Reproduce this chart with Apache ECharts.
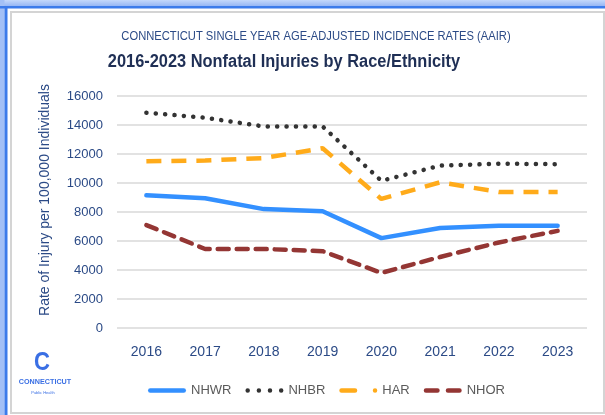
<!DOCTYPE html>
<html>
<head>
<meta charset="utf-8">
<script src="https://cdn.jsdelivr.net/npm/echarts@6/dist/echarts.min.js"></script>
<style>
html,body{margin:0;padding:0;background:#fff;}
#c{width:605px;height:415px;}
</style>
</head>
<body>
<div id="c"></div>
<script>
const years = ['2016','2017','2018','2019','2020','2021','2022','2023'];
const nhwr = [9150, 8950, 8200, 8050, 6200, 6900, 7050, 7050];
const nhbr = [14850, 14500, 13900, 13900, 10150, 11200, 11330, 11300];
const har  = [11500, 11550, 11720, 12400, 8900, 10050, 9380, 9380];
const nhor = [7100, 5450, 5450, 5300, 3800, 4900, 5900, 6700];
const yTicks = [0, 2000, 4000, 6000, 8000, 10000, 12000, 14000, 16000];

function pill(x0, x1) {
  const r = 2.25;
  return 'M' + (x0 + r) + ',0 H' + (x1 - r) + ' A' + r + ',' + r + ' 0 0 1 ' + (x1 - r) + ',4.5 H' + (x0 + r) +
         ' A' + r + ',' + r + ' 0 0 1 ' + (x0 + r) + ',0 Z ';
}
const iconNHWR = 'path://' + pill(0, 38);
const iconNHBR = 'path://' + pill(0, 4.5) + pill(11.2, 15.7) + pill(22.3, 26.8) + pill(33.5, 38);
const iconHAR  = 'path://' + pill(0, 18) + pill(33.5, 38);
const iconNHOR = 'path://' + pill(0, 16) + pill(22, 38);

const chart = echarts.init(document.getElementById('c'), null, {renderer:'canvas'});
const sans = "'Liberation Sans',sans-serif";
chart.setOption({
  backgroundColor:'#ffffff',
  animation:false,
  grid:{left:117, right:18, top:96, bottom:87},
  legend:{
    left:148, top:384, padding:0, itemWidth:38, itemHeight:4.5, itemGap:14,
    textStyle:{fontFamily:sans, fontSize:13, color:'#5a5a5a'},
    data:[
      {name:'NHWR', icon:iconNHWR},
      {name:'NHBR', icon:iconNHBR},
      {name:'HAR', icon:iconHAR},
      {name:'NHOR', icon:iconNHOR}
    ]
  },
  xAxis:{
    type:'category', data:years, boundaryGap:true,
    axisLine:{show:false}, axisTick:{show:false},
    axisLabel:{margin:17, fontFamily:sans, fontSize:14, color:'#2b4a86'}
  },
  yAxis:{
    type:'value', min:yTicks[0], max:yTicks[yTicks.length-1], interval:2000,
    axisLine:{show:false}, axisTick:{show:false},
    axisLabel:{margin:14, fontFamily:sans, fontSize:13, color:'#2b4a86', formatter:function(v){return String(v);}},
    splitLine:{lineStyle:{color:'#d9d9d9', width:1.5}}
  },
  series:[
    {name:'NHWR', type:'line', data:nhwr, symbol:'none', color:'#3390ff',
     lineStyle:{width:4.5, color:'#3390ff', cap:'round', join:'round'}},
    {name:'NHBR', type:'line', data:nhbr, symbol:'none', color:'#333333',
     lineStyle:{width:4.5, color:'#333333', type:[0.1, 9.3], cap:'round'}},
    {name:'HAR', type:'line', data:har, symbol:'none', color:'#ffab1a',
     lineStyle:{width:4.5, color:'#ffab1a', type:[15, 10], cap:'butt'}},
    {name:'NHOR', type:'line', data:nhor, symbol:'none', color:'#943634',
     lineStyle:{width:4.5, color:'#943634', type:[11, 8], cap:'round'}}
  ],
  graphic:[
    {type:'rect', shape:{x:0,y:0,width:605,height:7}, style:{fill:new echarts.graphic.LinearGradient(0,0,0,1,[{offset:0,color:'#c4d8fb'},{offset:1,color:'#8fb1f3'}])}, silent:true, z:100},
    {type:'rect', shape:{x:0,y:6,width:605,height:2.5}, style:{fill:'#3c7bea'}, silent:true, z:101},
    {type:'rect', shape:{x:0,y:0,width:4.5,height:415}, style:{fill:'#a3c0f6'}, silent:true, z:100},
    {type:'rect', shape:{x:4.5,y:6,width:3,height:409}, style:{fill:'#3c7bea'}, silent:true, z:101},
    {type:'rect', shape:{x:11,y:12,width:593,height:401}, style:{fill:'none', stroke:'#d4d4d4', lineWidth:2}, silent:true, z:100},
    {type:'text', x:316, y:36, scaleX:0.86, style:{text:'CONNECTICUT SINGLE YEAR AGE-ADJUSTED INCIDENCE RATES (AAIR)', font:"13px 'Liberation Sans',sans-serif", fill:'#2b4a86', align:'center', verticalAlign:'middle'}, silent:true},
    {type:'text', x:284, y:62, scaleX:0.91, style:{text:'2016-2023 Nonfatal Injuries by Race/Ethnicity', font:"bold 18px 'Liberation Sans',sans-serif", fill:'#1f2f55', align:'center', verticalAlign:'middle'}, silent:true},
    {type:'text', x:45, y:200, rotation:Math.PI/2, style:{text:'Rate of Injury per 100,000 Individuals', font:"14px 'Liberation Sans',sans-serif", fill:'#2b4a86', align:'center', verticalAlign:'middle'}, silent:true},
    {type:'text', x:42, y:363, scaleX:0.85, style:{text:'C', font:"900 26px 'Liberation Sans',sans-serif", fill:'#3a6fe4', align:'center', verticalAlign:'middle'}, silent:true},
    {type:'text', x:45, y:382, scaleX:0.9, style:{text:'CONNECTICUT', font:"bold 8px 'Liberation Sans',sans-serif", fill:'#3a6fe4', align:'center', verticalAlign:'middle'}, silent:true},
    {type:'text', x:43, y:393, style:{text:'Public Health', font:"4px 'Liberation Sans',sans-serif", fill:'#3a6fe4', align:'center', verticalAlign:'middle'}, silent:true}
  ]
});
</script>
</body>
</html>
